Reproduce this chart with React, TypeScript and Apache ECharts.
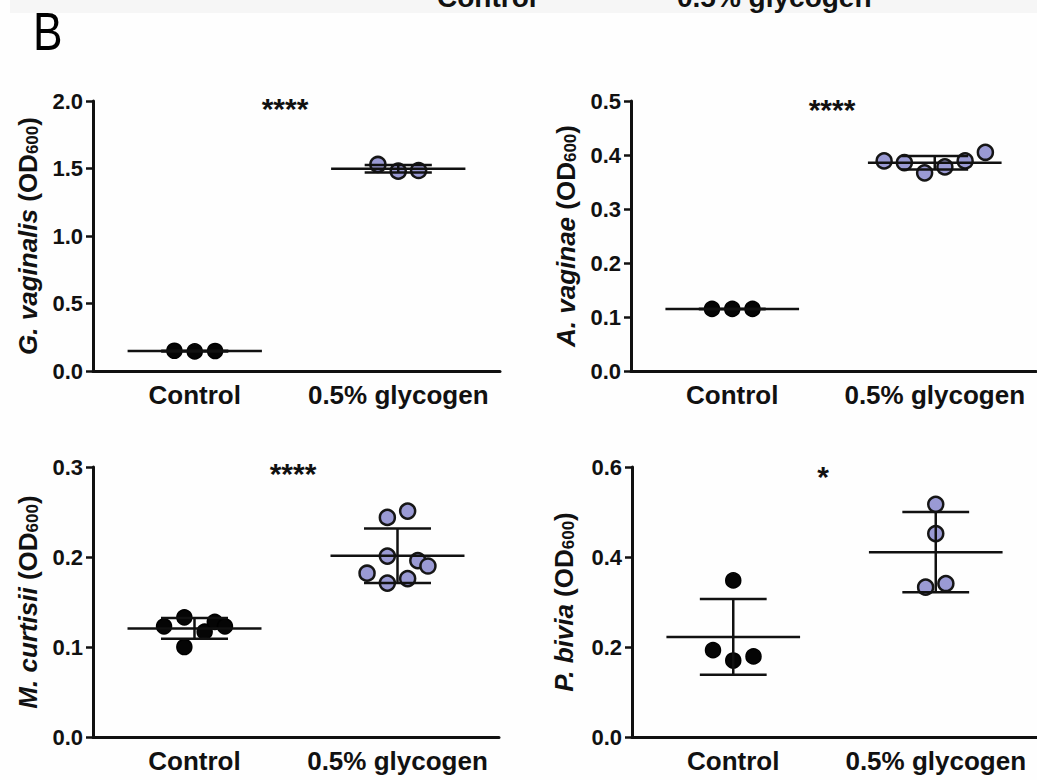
import React, { useEffect, useRef } from "react";
import * as echarts from "echarts";

// ---------------- data ----------------
const categories = ["Control", "0.5% glycogen"];
const legendLabels = ["Control", "0.5% glycogen"];

const panelTitles = ["G. vaginalis", "A. vaginae", "M. curtisii", "P. bivia"];
const significance = ["****", "****", "****", "*"];

const yMax = [2.0, 0.5, 0.3, 0.6];
const yStep = [0.5, 0.1, 0.1, 0.2];

// G. vaginalis
const gvControl = [0.150, 0.145, 0.148];
const gvGlycogen = [1.530, 1.480, 1.485];
const gvControlSlot = [-1, 0, 1];
const gvGlycogenSlot = [-1, 0, 1];

// A. vaginae
const avControl = [0.115, 0.115, 0.115];
const avGlycogen = [0.389, 0.386, 0.367, 0.378, 0.389, 0.405];
const avControlSlot = [-1, 0, 1];
const avGlycogenSlot = [-2.5, -1.5, -0.5, 0.5, 1.5, 2.5];

// M. curtisii
const mcControl = [0.123, 0.133, 0.100, 0.117, 0.128, 0.123];
const mcGlycogen = [0.244, 0.251, 0.201, 0.182, 0.171, 0.176, 0.196, 0.190];
const mcControlSlot = [-1.5, -0.5, -0.5, 0.5, 1, 1.5];
const mcGlycogenSlot = [-0.5, 0.5, -0.5, -1.5, -0.5, 0.5, 1, 1.5];

// P. bivia
const pbControl = [0.348, 0.193, 0.170, 0.179];
const pbGlycogen = [0.517, 0.452, 0.333, 0.341];
const pbControlSlot = [0, -1, 0, 1];
const pbGlycogenSlot = [0, 0, -0.5, 0.5];

const groups = [
  [gvControl, gvGlycogen, gvControlSlot, gvGlycogenSlot],
  [avControl, avGlycogen, avControlSlot, avGlycogenSlot],
  [mcControl, mcGlycogen, mcControlSlot, mcGlycogenSlot],
  [pbControl, pbGlycogen, pbControlSlot, pbGlycogenSlot],
];

// ---------------- layout / style ----------------
const FONT = '"Liberation Sans", Arial, Helvetica, sans-serif';
const INK = "#111111";
const PURPLE = "#9a9ad4";
const SLOT = 0.1; // x-offset per swarm slot (category units)
const MEAN_HALF = 0.33;
const CAP_HALF = 0.165;

const grids = [
  { left: 93, top: 101, width: 407, height: 270 },
  { left: 631, top: 101, width: 405, height: 270 },
  { left: 93, top: 467, width: 406, height: 270 },
  { left: 632, top: 467, width: 405, height: 270 },
];
const nameGaps = [52, 52, 52, 55];
const starPos = [
  [285, 108],
  [832, 109],
  [293, 473],
  [823, 476],
];

function mean(a: number[]) {
  return a.reduce((s, v) => s + v, 0) / a.length;
}
function sd(a: number[]) {
  const m = mean(a);
  return Math.sqrt(a.reduce((s, v) => s + (v - m) * (v - m), 0) / (a.length - 1));
}

function buildOption() {
  const grid: any[] = [];
  const xAxis: any[] = [];
  const yAxis: any[] = [];
  const series: any[] = [];

  groups.forEach((g, p) => {
    const [ctrl, gly, ctrlSlot, glySlot] = g as number[][];
    grid.push({ ...grids[p], containLabel: false, outerBoundsMode: "none" });
    xAxis.push({
      type: "category",
      gridIndex: p,
      position: "bottom",
      data: categories,
      boundaryGap: true,
      axisLine: { onZero: false, lineStyle: { color: INK, width: 3 } },
      axisTick: { alignWithLabel: true, length: 7, lineStyle: { color: INK, width: 2.5 } },
      axisLabel: {
        color: INK,
        fontFamily: FONT,
        fontWeight: "bold",
        fontSize: 26,
        margin: 11,
        interval: 0,
      },
      splitLine: { show: false },
    });
    xAxis.push({
      type: "value",
      gridIndex: p,
      position: "top",
      min: -0.5,
      max: 1.5,
      show: false,
    });
    yAxis.push({
      type: "value",
      gridIndex: p,
      position: "left",
      min: 0,
      max: yMax[p],
      interval: yStep[p],
      axisLine: { show: true, onZero: false, lineStyle: { color: INK, width: 3 } },
      axisTick: { show: true, length: 7, lineStyle: { color: INK, width: 2.5 } },
      splitLine: { show: false },
      axisLabel: {
        color: INK,
        fontFamily: FONT,
        fontWeight: "bold",
        fontSize: 22,
        margin: 10,
        formatter: (v: number) => v.toFixed(1),
      },
      name: `{i|${panelTitles[p]}} {n|(OD}{s|600}{n|)}`,
      nameLocation: "middle",
      nameRotate: 90,
      nameGap: nameGaps[p],
      nameTextStyle: {
        color: INK,
        fontFamily: FONT,
        fontWeight: "bold",
        fontSize: 26,
        rich: {
          i: { fontFamily: FONT, fontStyle: "italic", fontWeight: "bold", fontSize: 26, color: INK },
          n: { fontFamily: FONT, fontWeight: "bold", fontSize: 26, color: INK },
          s: { fontFamily: FONT, fontWeight: "bold", fontSize: 17, color: INK, verticalAlign: "bottom" },
        },
      },
    });

    const xi = 2 * p + 1;
    series.push({
      type: "scatter",
      name: "Control",
      xAxisIndex: xi,
      yAxisIndex: p,
      symbol: "circle",
      symbolSize: 15,
      itemStyle: { color: "#050505", borderColor: "#000", borderWidth: 1.5, opacity: 1 },
      data: ctrl.map((v, i) => [0 + ctrlSlot[i] * SLOT, v]),
      z: 2,
    });
    series.push({
      type: "scatter",
      name: "0.5% glycogen",
      xAxisIndex: xi,
      yAxisIndex: p,
      symbol: "circle",
      symbolSize: 15,
      itemStyle: { color: PURPLE, borderColor: "#161616", borderWidth: 2.5, opacity: 1 },
      data: gly.map((v, i) => [1 + glySlot[i] * SLOT, v]),
      z: 2,
    });
    series.push({
      type: "custom",
      xAxisIndex: xi,
      yAxisIndex: p,
      z: 5,
      clip: false,
      data: [
        [0, mean(ctrl), sd(ctrl)],
        [1, mean(gly), sd(gly)],
      ],
      renderItem: (params: any, api: any) => {
        const x = api.value(0);
        const m = api.value(1);
        const s = api.value(2);
        const st = { stroke: INK, lineWidth: 2.5 };
        const a = api.coord([x - MEAN_HALF, m]);
        const b = api.coord([x + MEAN_HALF, m]);
        const t = api.coord([x, m + s]);
        const bo = api.coord([x, m - s]);
        const tl = api.coord([x - CAP_HALF, m + s]);
        const tr = api.coord([x + CAP_HALF, m + s]);
        const bl = api.coord([x - CAP_HALF, m - s]);
        const br = api.coord([x + CAP_HALF, m - s]);
        return {
          type: "group",
          children: [
            { type: "line", shape: { x1: a[0], y1: a[1], x2: b[0], y2: b[1] }, style: st },
            { type: "line", shape: { x1: t[0], y1: t[1], x2: bo[0], y2: bo[1] }, style: st },
            { type: "line", shape: { x1: tl[0], y1: tl[1], x2: tr[0], y2: tr[1] }, style: st },
            { type: "line", shape: { x1: bl[0], y1: bl[1], x2: br[0], y2: br[1] }, style: st },
          ],
        };
      },
    });
  });

  const graphic: any[] = [
    { type: "rect", left: 10, top: 0, shape: { width: 1027, height: 13 }, style: { fill: "#f6f6f6" }, z: -10 },
    {
      type: "text",
      x: 33,
      y: 31,
      scaleX: 0.82,
      style: { text: "B", fontFamily: FONT, fontSize: 54, fill: "#000", verticalAlign: "middle", align: "left" },
    },
    {
      type: "text",
      x: 437,
      y: -3,
      style: { text: legendLabels[0], fontFamily: FONT, fontWeight: "bold", fontSize: 28, fill: INK, verticalAlign: "middle" },
    },
    {
      type: "text",
      x: 677,
      y: -3,
      style: { text: legendLabels[1], fontFamily: FONT, fontWeight: "bold", fontSize: 28, fill: INK, verticalAlign: "middle" },
    },
  ];
  starPos.forEach((pos, p) => {
    graphic.push({
      type: "text",
      x: pos[0],
      y: pos[1],
      style: {
        text: significance[p],
        fontFamily: FONT,
        fontWeight: "bold",
        fontSize: 30,
        fill: INK,
        align: "center",
        verticalAlign: "middle",
      },
    });
  });

  return {
    animation: false,
    backgroundColor: "#fefefe",
    grid,
    xAxis,
    yAxis,
    series,
    graphic,
  };
}

export default function App() {
  const ref = useRef<HTMLDivElement>(null);
  useEffect(() => {
    if (!ref.current) return;
    const chart = echarts.init(ref.current, undefined, { renderer: "svg" });
    chart.setOption(buildOption() as any);
    return () => chart.dispose();
  }, []);
  return (
    <div
      ref={ref}
      style={{ position: "absolute", left: 0, top: 0, width: 1037, height: 780 }}
    />
  );
}
